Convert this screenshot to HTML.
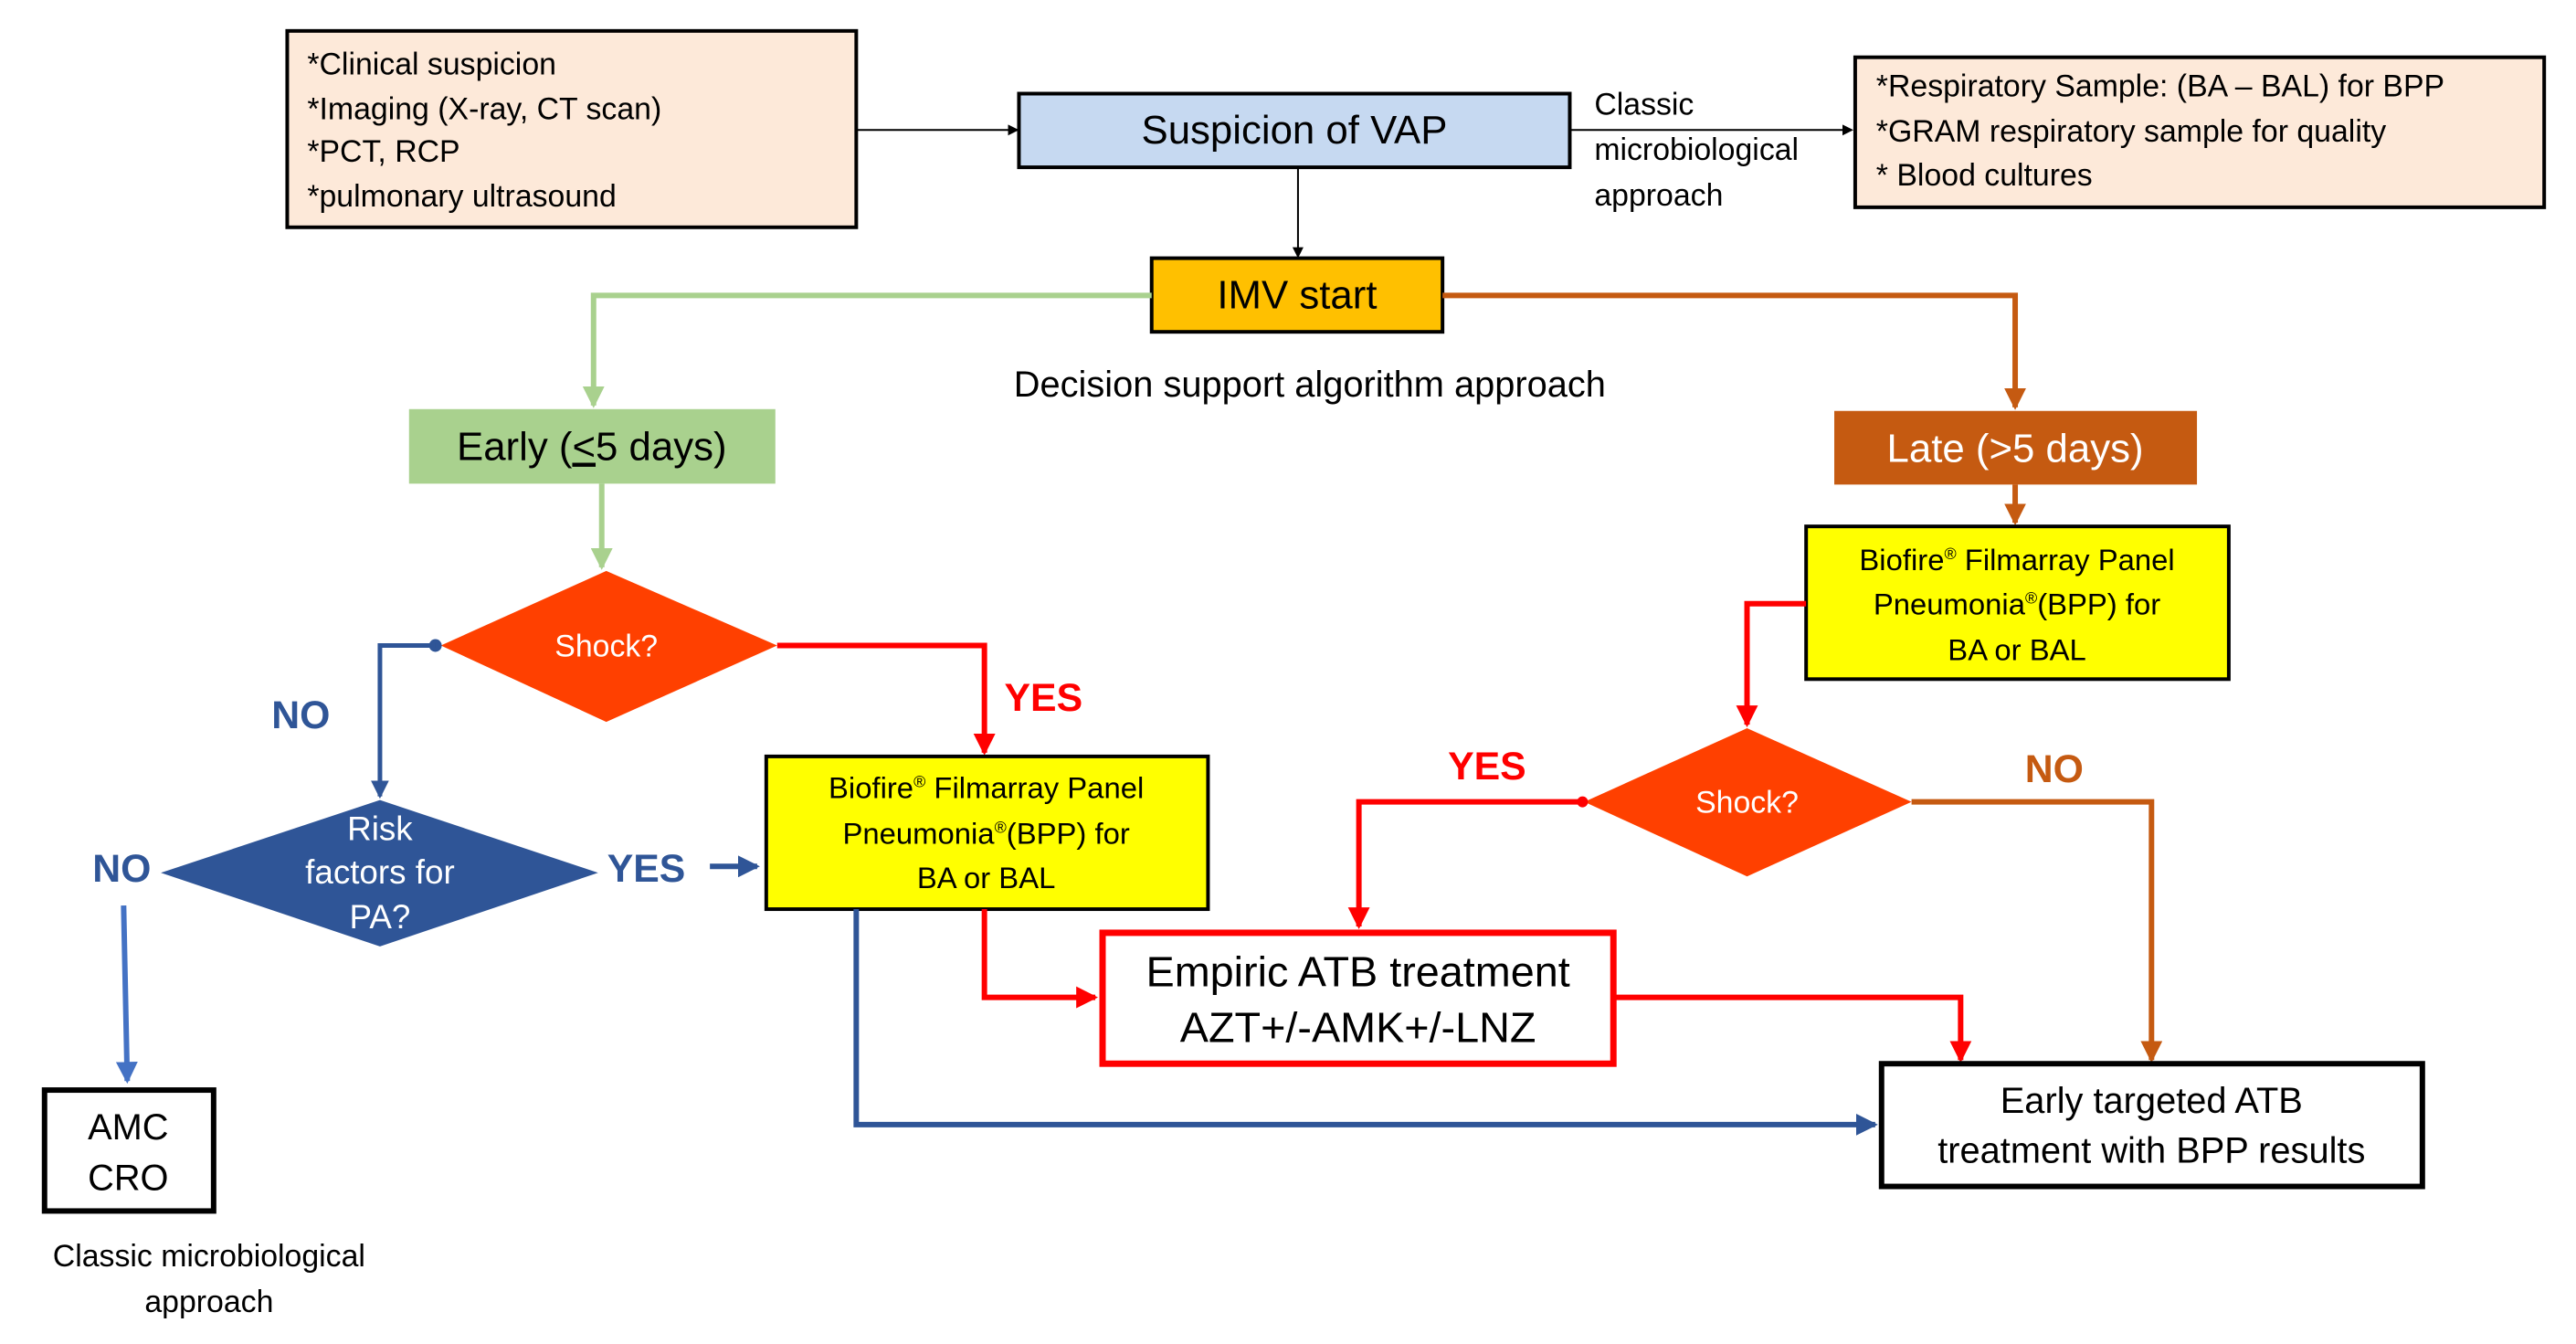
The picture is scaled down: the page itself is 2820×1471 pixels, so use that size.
<!DOCTYPE html>
<html><head><meta charset="utf-8"><style>
html,body{margin:0;padding:0;background:#fff;}
svg{display:block;font-family:"Liberation Sans Narrow","Liberation Sans",sans-serif;}
</style></head><body>
<svg width="2820" height="1471" viewBox="0 0 2834 1478" preserveAspectRatio="xMinYMin meet" xmlns="http://www.w3.org/2000/svg">
<defs>
<marker id="ak" markerWidth="6" markerHeight="6" refX="5" refY="3" orient="auto" markerUnits="strokeWidth"><path d="M0,0 L6,3 L0,6 z" fill="#000"/></marker>
<marker id="ag" markerWidth="4" markerHeight="4" refX="3.5" refY="2" orient="auto" markerUnits="strokeWidth"><path d="M0,0 L4,2 L0,4 z" fill="#a9d18e"/></marker>
<marker id="ao" markerWidth="4" markerHeight="4" refX="3.5" refY="2" orient="auto" markerUnits="strokeWidth"><path d="M0,0 L4,2 L0,4 z" fill="#c55a11"/></marker>
<marker id="ar" markerWidth="4" markerHeight="4" refX="3.5" refY="2" orient="auto" markerUnits="strokeWidth"><path d="M0,0 L4,2 L0,4 z" fill="#ff0000"/></marker>
<marker id="ab" markerWidth="4" markerHeight="4" refX="3.5" refY="2" orient="auto" markerUnits="strokeWidth"><path d="M0,0 L4,2 L0,4 z" fill="#2f5597"/></marker>
<marker id="al" markerWidth="4" markerHeight="4" refX="3.5" refY="2" orient="auto" markerUnits="strokeWidth"><path d="M0,0 L4,2 L0,4 z" fill="#4472c4"/></marker>
</defs>

<rect x="316" y="34" width="626" height="216" fill="#fde9d9" stroke="#000" stroke-width="4"/>
<g font-size="34" fill="#000">
<text x="338" y="82">*Clinical suspicion</text>
<text x="338" y="131">*Imaging (X-ray, CT scan)</text>
<text x="338" y="178">*PCT, RCP</text>
<text x="338" y="227">*pulmonary ultrasound</text>
</g>
<line x1="942" y1="143" x2="1119" y2="143" stroke="#000" stroke-width="2" marker-end="url(#ak)"/>

<rect x="1121" y="103" width="606" height="81" fill="#c6d9f1" stroke="#000" stroke-width="4"/>
<text x="1424" y="158" font-size="44" text-anchor="middle">Suspicion of  VAP</text>
<line x1="1727" y1="143" x2="2037" y2="143" stroke="#000" stroke-width="2" marker-end="url(#ak)"/>
<g font-size="34">
<text x="1754" y="126">Classic</text>
<text x="1754" y="176">microbiological</text>
<text x="1754" y="226">approach</text>
</g>
<rect x="2041" y="63" width="758" height="165" fill="#fde9d9" stroke="#000" stroke-width="4"/>
<g font-size="34">
<text x="2064" y="106">*Respiratory Sample: (BA – BAL) for BPP</text>
<text x="2064" y="156">*GRAM  respiratory sample for quality</text>
<text x="2064" y="204">* Blood cultures</text>
</g>
<line x1="1428" y1="184" x2="1428" y2="282" stroke="#000" stroke-width="2" marker-end="url(#ak)"/>

<rect x="1267" y="284" width="320" height="81" fill="#ffc000" stroke="#000" stroke-width="4"/>
<text x="1427" y="339" font-size="44" text-anchor="middle">IMV start</text>
<text x="1441" y="436" font-size="40" text-anchor="middle">Decision support algorithm approach</text>

<polyline points="1267,325 653,325 653,446" fill="none" stroke="#a9d18e" stroke-width="6" marker-end="url(#ag)"/>
<rect x="450" y="450" width="403" height="82" fill="#a9d18e"/>
<text x="651" y="506" font-size="44" text-anchor="middle">Early (<tspan text-decoration="underline">&lt;</tspan>5 days)</text>
<line x1="662" y1="532" x2="662" y2="624" stroke="#a9d18e" stroke-width="6" marker-end="url(#ag)"/>

<polyline points="1587,325 2217,325 2217,448" fill="none" stroke="#c55a11" stroke-width="6" marker-end="url(#ao)"/>
<rect x="2018" y="452" width="399" height="81" fill="#c55a11"/>
<text x="2217" y="508" font-size="44" text-anchor="middle" fill="#fff">Late (&gt;5 days)</text>
<line x1="2217" y1="533" x2="2217" y2="575" stroke="#c55a11" stroke-width="6" marker-end="url(#ao)"/>

<rect x="1987" y="579" width="465" height="168" fill="#ffff00" stroke="#000" stroke-width="4"/>
<g font-size="33" text-anchor="middle">
<text x="2219" y="627">Biofire<tspan font-size="18" dy="-12">®</tspan><tspan dy="12"> Filmarray Panel</tspan></text>
<text x="2219" y="676">Pneumonia<tspan font-size="18" dy="-12">®</tspan><tspan dy="12">(BPP)  for</tspan></text>
<text x="2219" y="726">BA or BAL</text>
</g>
<polyline points="1987,664 1922,664 1922,797" fill="none" stroke="#ff0000" stroke-width="6" marker-end="url(#ar)"/>

<polygon points="1922,801 2103,882 1922,964 1743,882" fill="#ff4000"/>
<text x="1922" y="894" font-size="34" fill="#fff" text-anchor="middle">Shock?</text>
<text x="1636" y="857" font-size="43" font-weight="bold" fill="#ff0000" text-anchor="middle">YES</text>
<text x="2260" y="860" font-size="43" font-weight="bold" fill="#c55a11" text-anchor="middle">NO</text>
<circle cx="1741" cy="882" r="6" fill="#ff0000"/>
<polyline points="1741,882 1495,882 1495,1019" fill="none" stroke="#ff0000" stroke-width="6" marker-end="url(#ar)"/>
<polyline points="2103,882 2367,882 2367,1166" fill="none" stroke="#c55a11" stroke-width="6" marker-end="url(#ao)"/>

<rect x="1213" y="1026" width="562" height="144" fill="#fff" stroke="#ff0000" stroke-width="7"/>
<g font-size="47" text-anchor="middle">
<text x="1494" y="1085">Empiric ATB treatment</text>
<text x="1494" y="1146">AZT+/-AMK+/-LNZ</text>
</g>
<polyline points="1778,1097 2157,1097 2157,1166" fill="none" stroke="#ff0000" stroke-width="6" marker-end="url(#ar)"/>

<rect x="2070" y="1170" width="595" height="135" fill="#fff" stroke="#000" stroke-width="6"/>
<g font-size="40" text-anchor="middle">
<text x="2367" y="1224">Early targeted ATB</text>
<text x="2367" y="1279">treatment with BPP results</text>
</g>

<polygon points="667,628 855,710 667,794 485,710" fill="#ff4000"/>
<text x="667" y="722" font-size="34" fill="#fff" text-anchor="middle">Shock?</text>
<polyline points="855,710 1083,710 1083,828" fill="none" stroke="#ff0000" stroke-width="6" marker-end="url(#ar)"/>
<text x="1148" y="782" font-size="43" font-weight="bold" fill="#ff0000" text-anchor="middle">YES</text>
<circle cx="479" cy="710" r="7" fill="#2f5597"/>
<polyline points="479,710 418,710 418,876" fill="none" stroke="#2f5597" stroke-width="5" marker-end="url(#ab)"/>
<text x="331" y="801" font-size="43" font-weight="bold" fill="#2f5597" text-anchor="middle">NO</text>

<rect x="843" y="832" width="486" height="168" fill="#ffff00" stroke="#000" stroke-width="4"/>
<g font-size="33" text-anchor="middle">
<text x="1085" y="878">Biofire<tspan font-size="18" dy="-12">®</tspan><tspan dy="12"> Filmarray Panel</tspan></text>
<text x="1085" y="928">Pneumonia<tspan font-size="18" dy="-12">®</tspan><tspan dy="12">(BPP) for</tspan></text>
<text x="1085" y="977">BA or BAL</text>
</g>
<polyline points="1083,1000 1083,1097 1205,1097" fill="none" stroke="#ff0000" stroke-width="6" marker-end="url(#ar)"/>
<polyline points="942,1000 942,1237 2063,1237" fill="none" stroke="#2f5597" stroke-width="6" marker-end="url(#ab)"/>

<polygon points="418,880 658,960 418,1041 177,960" fill="#2f5597"/>
<g font-size="37" fill="#fff" text-anchor="middle">
<text x="418" y="924">Risk</text>
<text x="418" y="972">factors for</text>
<text x="418" y="1021">PA?</text>
</g>
<text x="711" y="970" font-size="43" font-weight="bold" fill="#2f5597" text-anchor="middle">YES</text>
<line x1="781" y1="953" x2="833" y2="953" stroke="#2f5597" stroke-width="6" marker-end="url(#ab)"/>
<text x="134" y="970" font-size="43" font-weight="bold" fill="#2f5597" text-anchor="middle">NO</text>
<line x1="136" y1="996" x2="140" y2="1189" stroke="#4472c4" stroke-width="6" marker-end="url(#al)"/>

<rect x="49" y="1199" width="186" height="133" fill="#fff" stroke="#000" stroke-width="6"/>
<g font-size="40" text-anchor="middle">
<text x="141" y="1253">AMC</text>
<text x="141" y="1309">CRO</text>
</g>
<g font-size="34" text-anchor="middle">
<text x="230" y="1393">Classic microbiological</text>
<text x="230" y="1443">approach</text>
</g>
</svg>
</body></html>
